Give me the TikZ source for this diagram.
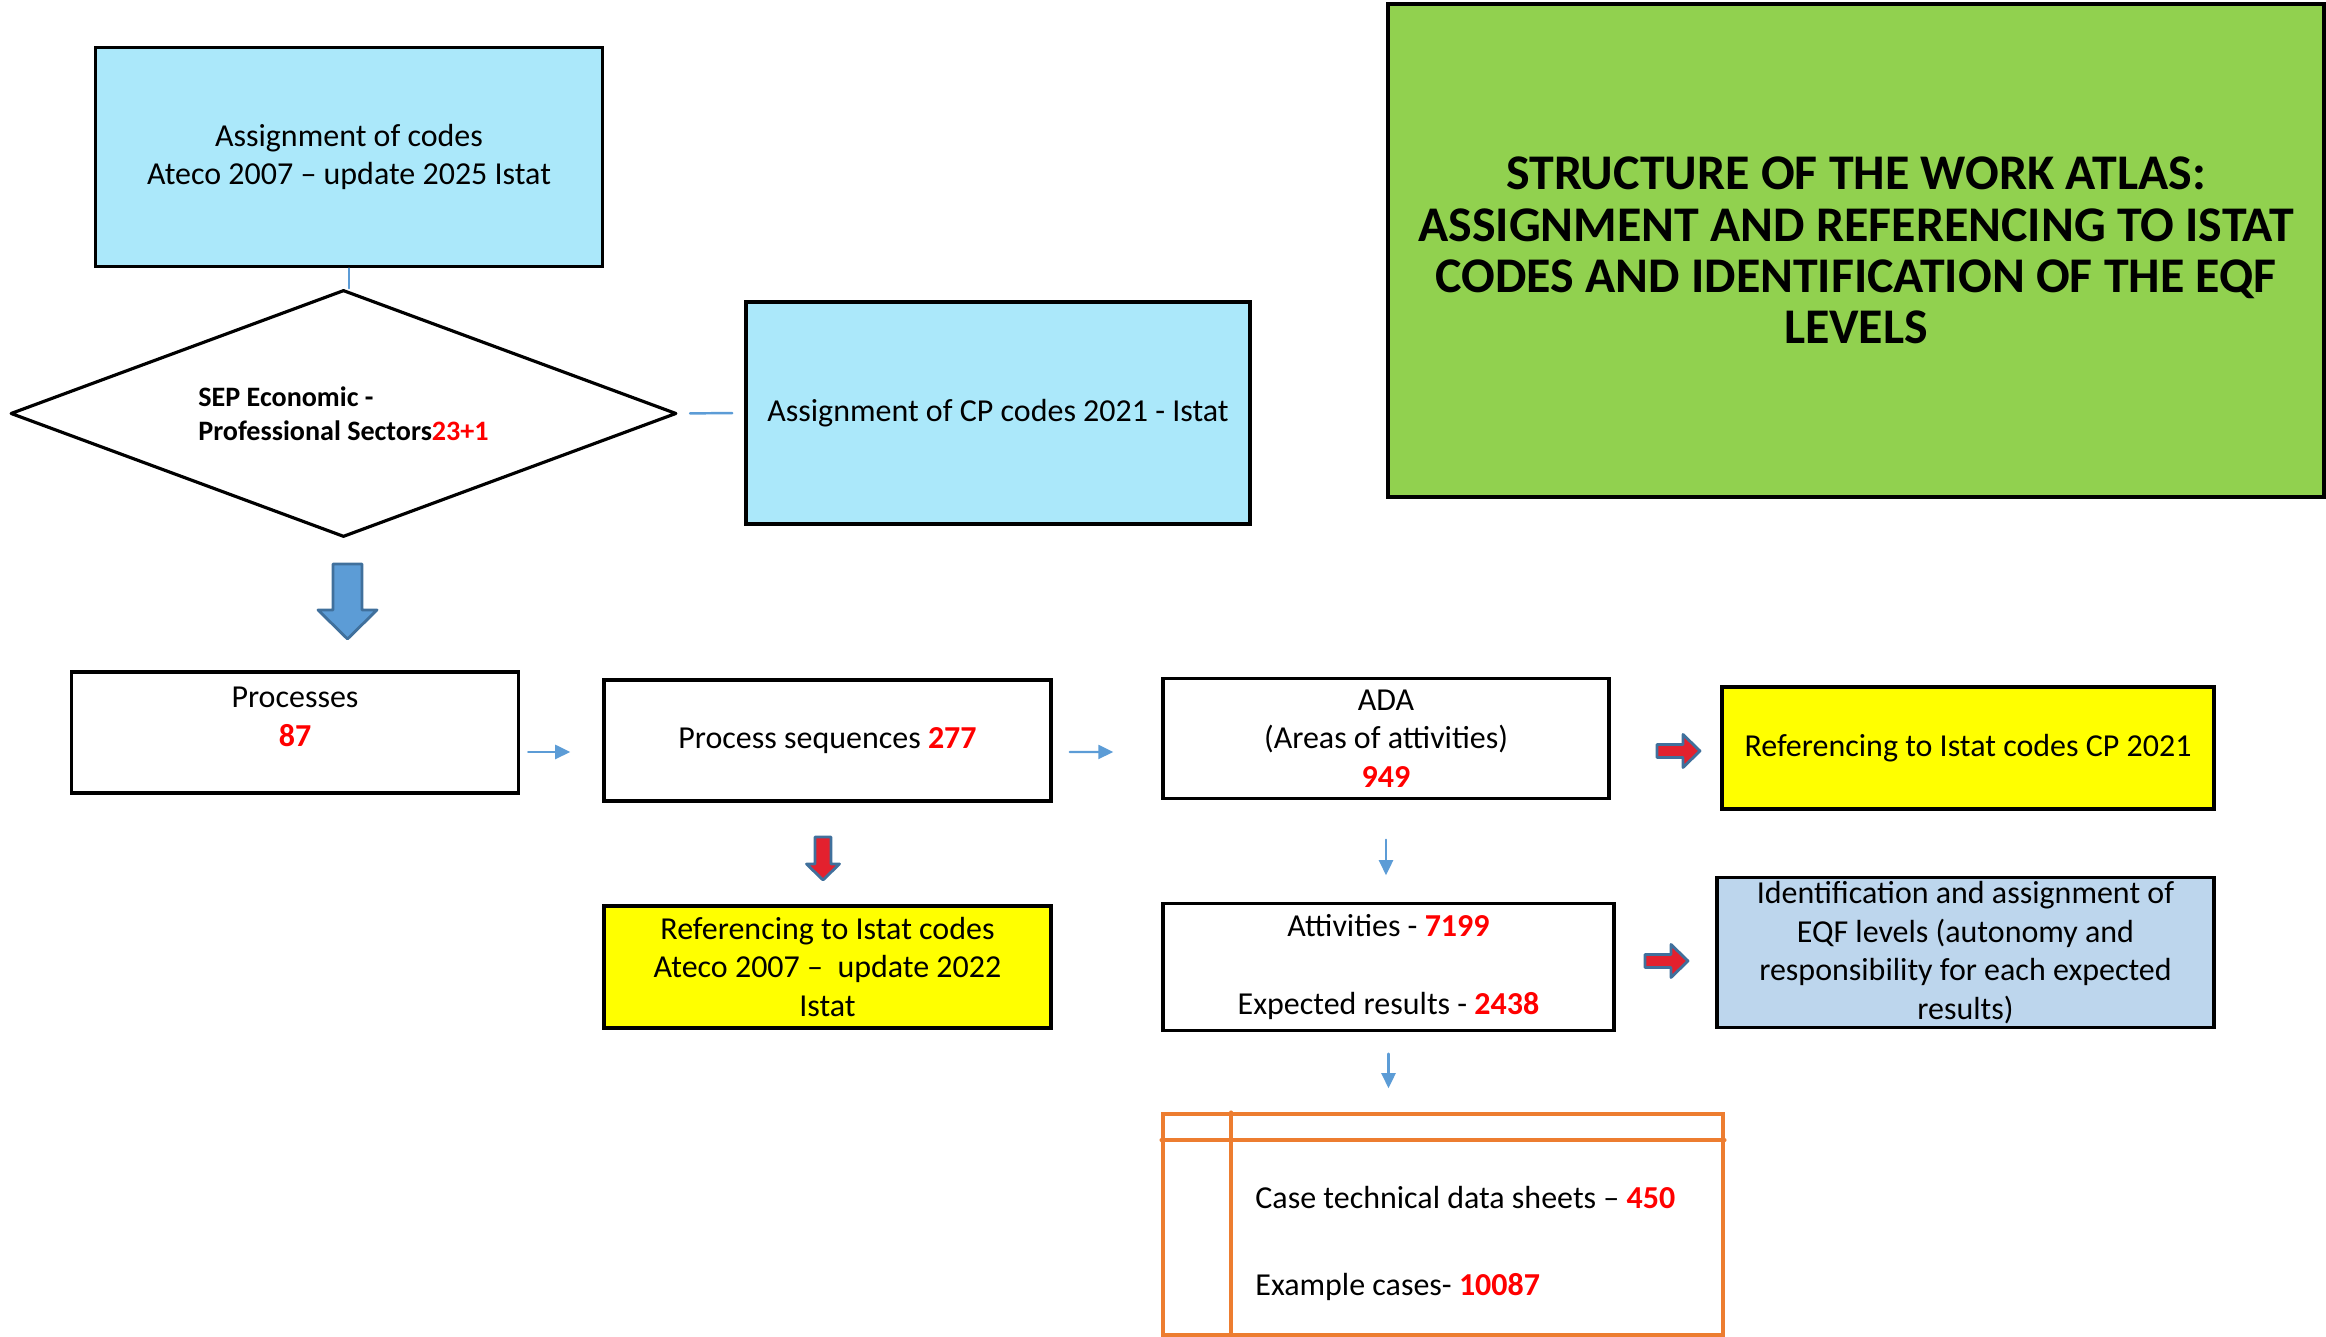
\documentclass[tikz,border=0pt]{standalone}
\usepackage{fontspec}
\setmainfont{Carlito}
\usepackage{tikz}
\usetikzlibrary{arrows.meta,shapes.geometric}
\definecolor{abezfb}{rgb}{0.67,0.91,0.98}
\definecolor{zsdqvq}{rgb}{0.57,0.82,0.31}
\definecolor{ffffqq}{rgb}{1,1,0}
\definecolor{bddxee}{rgb}{0.74,0.84,0.93}
\definecolor{ffqqqq}{rgb}{1,0,0}
\definecolor{vbzbdv}{rgb}{0.36,0.61,0.84}
\definecolor{urxrzc}{rgb}{0.25,0.44,0.61}
\definecolor{essqse}{rgb}{0.89,0.13,0.18}
\definecolor{edxdtr}{rgb}{0.93,0.49,0.19}
\newcommand{\rednum}[1]{\textcolor{ffqqqq}{\textbf{#1}}}

\begin{document}
\begin{tikzpicture}[line cap=round,line join=round,>={Triangle[length=1.5mm,width=1.4mm]},x=1.0cm,y=1.0cm,
    font=\fontsize{9.1}{11}\selectfont,
    box/.style={draw=black,line width=1pt,line join=miter,inner sep=0pt,align=center},
    thin/.style={color=vbzbdv,line width=0.7pt}]
    \useasboundingbox (0,0) rectangle (23.26,13.37);
    % top part
    \node[box,fill=abezfb,minimum width=5.07cm,minimum height=2.19cm] (atec) at (3.49,11.80) {Assignment of codes\\Ateco 2007 – update 2025 Istat};
    \node[diamond,aspect=2.7,draw=black,line width=0.9pt,minimum width=6.66cm,minimum height=2.47cm,inner sep=0pt,align=left,font=\bfseries\fontsize{8}{9.7}\selectfont] (sep) at (3.435,9.235) {SEP Economic -\\Professional Sectors\textcolor{ffqqqq}{23+1}};
    \node[box,fill=abezfb,minimum width=5.04cm,minimum height=2.22cm] (cpbox) at (9.98,9.24) {Assignment of CP codes 2021 - Istat};
    \node[box,fill=zsdqvq,minimum width=9.36cm,minimum height=4.93cm,font=\bfseries\fontsize{14.2}{14.6}\selectfont] (title) at (18.56,10.865) {STRUCTURE OF THE WORK ATLAS:\\ASSIGNMENT AND REFERENCING TO ISTAT\\CODES AND IDENTIFICATION OF THE EQF\\LEVELS};
    \draw[color=vbzbdv,line width=0.5pt] (atec.south) -- (atec.south |- sep.north);
    \draw[color=vbzbdv,line width=0.7pt,shorten <=0.12cm,shorten >=0.12cm] (sep.east) -- (cpbox.west);
    \filldraw[shift={(3.475,7.73)},fill=vbzbdv,draw=urxrzc,line width=0.8pt] (-0.145,0) -- (-0.145,-0.46) -- (-0.295,-0.46) -- (0,-0.75) -- (0.295,-0.46) -- (0.145,-0.46) -- (0.145,0) -- cycle;
    % middle row
    \node[box,minimum width=4.47cm,minimum height=1.21cm] (proc) at (2.95,6.045) {};
    \node[align=center] (proclabel) at (2.95,6.20) {Processes\\\rednum{87}};
    \node[box,minimum width=4.47cm,minimum height=1.21cm] (seq) at (8.275,5.965) {Process sequences \rednum{277}};
    \node[box,minimum width=4.46cm,minimum height=1.20cm] (ada) at (13.86,5.985) {ADA\\(Areas of attivities)\\\rednum{949}};
    \node[box,fill=ffffqq,minimum width=4.92cm,minimum height=1.22cm] (refcp) at (19.68,5.89) {Referencing to Istat codes CP 2021};
    \draw[->,thin,shorten <=0.08cm,shorten >=0.32cm] ([yshift=-0.195cm]proc.east) -- ([yshift=-0.115cm]seq.west);
    \draw[->,thin,shorten <=0.17cm,shorten >=0.48cm] ([yshift=-0.115cm]seq.east) -- ([yshift=-0.135cm]ada.west);
    % lower row
    \node[box,fill=ffffqq,minimum width=4.47cm,minimum height=1.22cm] (refat) at (8.275,3.70) {Referencing to Istat codes\\Ateco 2007 –\ \ update 2022\\Istat};
    \node[box,minimum width=4.51cm,minimum height=1.27cm] (act) at (13.885,3.70) {Attivities - \rednum{7199}\\[0.39cm]Expected results - \rednum{2438}};
    \node[box,fill=bddxee,minimum width=4.97cm,minimum height=1.50cm] (eqf) at (19.655,3.845) {Identification and assignment of\\EQF levels (autonomy and\\responsibility for each expected\\results)};
    \draw[->,thin,shorten <=0.395cm,shorten >=0.265cm] (ada.south) -- (ada.south |- act.north);
    \filldraw[shift={(8.23,5.00)},fill=essqse,draw=urxrzc,line width=0.8pt] (-0.08,0) -- (-0.08,-0.27) -- (-0.165,-0.27) -- (0,-0.43) -- (0.165,-0.27) -- (0.08,-0.27) -- (0.08,0) -- cycle;
    \foreach \p in {(16.57,5.86),(16.45,3.76)}
    \filldraw[shift={\p},fill=essqse,draw=urxrzc,line width=0.8pt] (0,0.065) -- (0.26,0.065) -- (0.26,0.165) -- (0.43,0) -- (0.26,-0.165) -- (0.26,-0.065) -- (0,-0.065) -- cycle;
    % table of cases
    \node[draw=edxdtr,line width=1pt,line join=miter,inner sep=0pt,minimum width=5.60cm,minimum height=2.21cm] (tbl) at (14.43,1.125) {};
    \draw[color=edxdtr,line width=1pt] ([yshift=-0.28cm]tbl.north west) -- ([yshift=-0.28cm]tbl.north east);
    \draw[color=edxdtr,line width=1pt] ([xshift=0.70cm]tbl.north west) -- ([xshift=0.70cm]tbl.south west);
    \draw[->,thin,shorten <=0.215cm,shorten >=0.24cm] (act.south) -- (act.south |- tbl.north);
    \node[anchor=west] (sheets) at (12.43,1.39) {Case technical data sheets – \rednum{450}};
    \node[anchor=west] (cases) at (12.43,0.50) {Example cases- \rednum{10087}};
\end{tikzpicture}
\end{document}
